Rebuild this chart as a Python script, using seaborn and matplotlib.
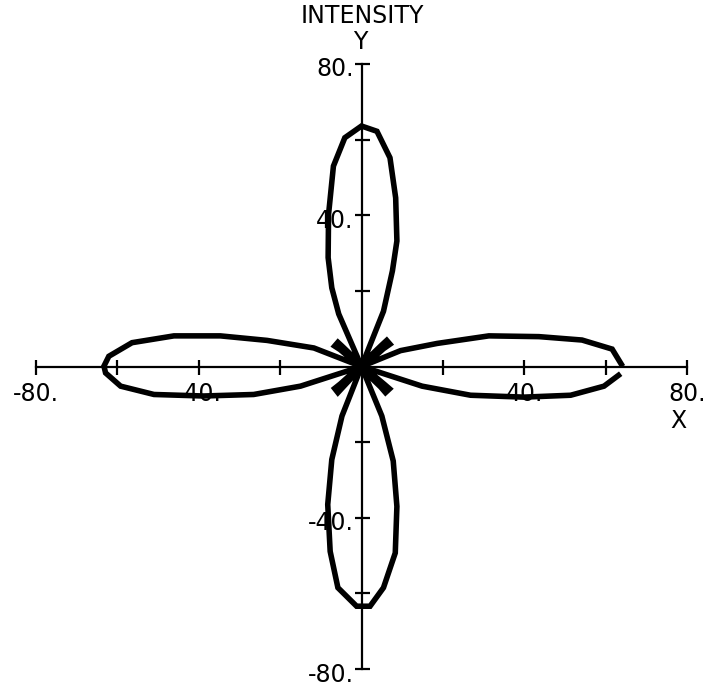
import matplotlib
matplotlib.use("Agg")
import matplotlib.pyplot as plt
import seaborn as sns
import pandas as pd

sns.set_theme(style="white")
plt.rcParams["font.family"] = ["DejaVu Sans"]

# Traced outline of the four-lobed intensity pattern, in drawing order
right_upper_x = [64.2, 61.6, 54.2, 43.6, 31.3, 18.6, 9.6, 0.0]
right_upper_y = [0.0, 4.6, 7.0, 7.9, 8.1, 6.1, 4.2, 0.0]
ur_small_x = [2.6, 5.4, 7.0, 6.2, 4.9, 2.0, 0.0]
ur_small_y = [2.0, 4.7, 5.9, 6.9, 5.6, 2.6, 0.0]
top_x = [5.4, 7.6, 8.7, 8.4, 7.0, 3.8, 0.0, -4.1, -6.9, -8.1, -8.2, -7.3, -5.6, 0.0]
top_y = [14.6, 25.3, 33.2, 44.6, 55.2, 62.2, 63.6, 60.5, 53.0, 40.2, 28.8, 20.8, 13.9, 0.0]
ul_small_x = [-2.0, -4.8, -5.8, -6.6, -5.3, -2.5, 0.0]
ul_small_y = [2.5, 5.4, 6.4, 5.4, 4.5, 2.0, 0.0]
left_x = [-11.7, -23.2, -34.7, -46.1, -56.4, -62.1, -63.3,
          -62.9, -59.2, -51.0, -38.8, -26.5, -15.0, 0.0]
left_y = [4.9, 6.9, 8.1, 8.1, 6.3, 2.7, 0.1,
          -1.7, -5.2, -7.4, -7.8, -7.4, -5.2, 0.0]
ll_small_x = [-2.5, -5.2, -6.6, -5.8, -4.6, -2.0, 0.0]
ll_small_y = [-2.0, -4.6, -5.8, -6.9, -5.5, -2.5, 0.0]
bottom_x = [-4.8, -7.3, -8.3, -7.7, -5.8, -1.2, 2.1, 5.4, 8.3, 8.7, 7.8, 5.0, 0.0]
bottom_y = [-13.1, -24.6, -36.5, -48.9, -58.5, -63.4, -63.4, -58.5, -49.3, -37.0, -25.0, -13.1, 0.0]
lr_small_x = [2.0, 4.7, 5.9, 6.9, 5.6, 2.6, 0.0]
lr_small_y = [-2.6, -5.4, -6.9, -5.9, -4.7, -2.0, 0.0]
right_lower_x = [14.9, 26.8, 39.9, 51.4, 59.6, 63.7]
right_lower_y = [-5.2, -7.6, -8.1, -7.6, -5.2, -1.9]

tick_values = [-80, -60, -40, -20, 20, 40, 60, 80]
x_tick_labels = {-80: "-80.", -40: "-40.", 40: "40.", 80: "80."}
y_tick_labels = {80: "80.", 40: "40.", -40: "-40.", -80: "-80."}

xs = (right_upper_x + ur_small_x + top_x + ul_small_x + left_x
      + ll_small_x + bottom_x + lr_small_x + right_lower_x)
ys = (right_upper_y + ur_small_y + top_y + ul_small_y + left_y
      + ll_small_y + bottom_y + lr_small_y + right_lower_y)
df = pd.DataFrame({"x": xs, "y": ys, "order": range(len(xs))})

fig = plt.figure(figsize=(7.05, 6.89), dpi=100)
ax = fig.add_axes([36 / 705, 20 / 689, 651 / 705, 605 / 689])

sns.lineplot(data=df, x="x", y="y", sort=False, estimator=None, ax=ax,
             color="black", linewidth=4.0, solid_joinstyle="miter",
             solid_capstyle="butt")

ax.set_xlim(-80, 80)
ax.set_ylim(-80, 80)
ax.set_xlabel("")
ax.set_ylabel("")
for side in ("top", "right"):
    ax.spines[side].set_visible(False)
for side in ("left", "bottom"):
    ax.spines[side].set_position("zero")
    ax.spines[side].set_color("black")
    ax.spines[side].set_linewidth(1.6)

ax.set_xticks(tick_values)
ax.set_yticks(tick_values)
ax.tick_params(direction="inout", length=10.8, width=1.6, color="black",
               labelbottom=False, labelleft=False, bottom=True, left=True)

fs = 17
for v, s in x_tick_labels.items():
    ax.annotate(s, xy=(v, 0), xytext=(0, -34.5), textcoords="offset pixels",
                ha="center", va="baseline", fontsize=fs, color="black",
                annotation_clip=False)
for v, s in y_tick_labels.items():
    ax.annotate(s, xy=(0, v), xytext=(-8, -12.5), textcoords="offset pixels",
                ha="right", va="baseline", fontsize=fs, color="black",
                annotation_clip=False)

fig.text(362 / 705, 1 - 23.3 / 689, "INTENSITY", ha="center", va="baseline",
         fontsize=fs, color="black")
fig.text(360 / 705, 1 - 49 / 689, "Y", ha="center", va="baseline",
         fontsize=fs, color="black")
fig.text(678 / 705, 1 - 428.3 / 689, "X", ha="center", va="baseline",
         fontsize=fs, color="black")

fig.savefig("out.png", dpi=100)
